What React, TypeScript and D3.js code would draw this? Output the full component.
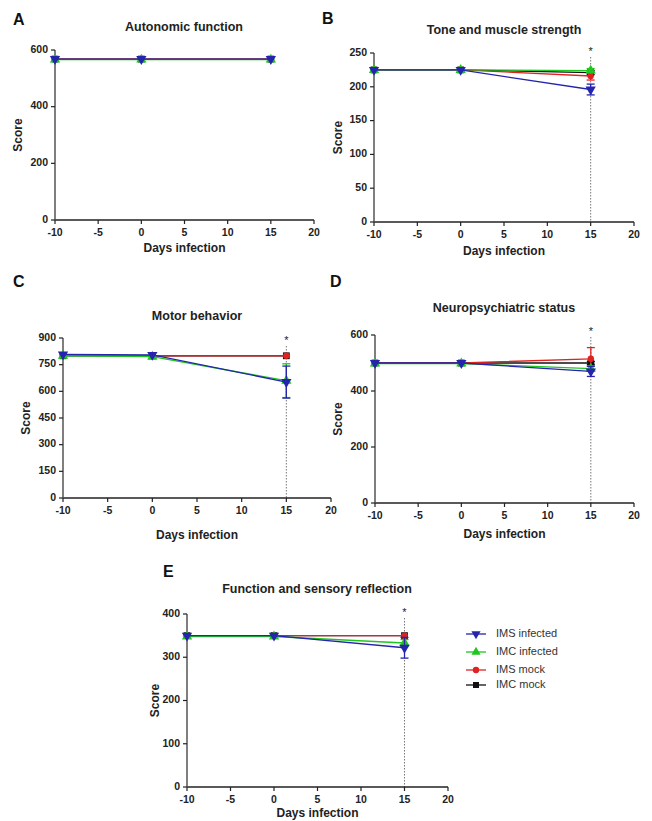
import React from 'react';
import * as d3 from 'd3';

const days = [-10, 0, 15];
const xTicks = [-10, -5, 0, 5, 10, 15, 20];

const seriesNames = ['IMS infected', 'IMC infected', 'IMS mock', 'IMC mock'];
const seriesColors = ['#2424ad', '#1fc61f', '#e02222', '#111111'];

// means per series (IMS infected, IMC infected, IMS mock, IMC mock)
const autonomicMean = [[568, 568, 568], [566, 566, 566], [568, 568, 568], [568, 568, 568]];
const autonomicErr = [[0, 0, 0], [0, 0, 0], [0, 0, 0], [0, 0, 0]];

const toneMean = [[225, 225, 196], [225, 225, 224], [225, 225, 216], [225, 225, 221]];
const toneErr = [[0, 0, 8], [0, 0, 3], [0, 0, 6], [0, 0, 3]];

const motorMean = [[808, 805, 652], [800, 795, 660], [805, 800, 800], [800, 800, 800]];
const motorErr = [[0, 0, 90], [0, 0, 95], [0, 0, 0], [0, 0, 0]];

const neuroMean = [[500, 500, 470], [498, 498, 480], [500, 500, 515], [500, 500, 500]];
const neuroErr = [[0, 0, 18], [0, 0, 10], [0, 0, 40], [0, 0, 5]];

const sensoryMean = [[350, 350, 322], [348, 348, 333], [350, 350, 350], [350, 350, 350]];
const sensoryErr = [[0, 0, 24], [0, 0, 8], [0, 0, 0], [0, 0, 0]];

const font = 'Arial, "Liberation Sans", sans-serif';

const symbolPath = (i: number, size = 46) => {
  const types = [d3.symbolTriangle, d3.symbolTriangle, d3.symbolCircle, d3.symbolSquare];
  return d3.symbol().type(types[i]).size(i === 2 ? 32 : size)() as string;
};
const symbolRot = (i: number) => (i === 0 ? 180 : 0);

type PanelProps = {
  letter: string; lx: number; ly: number;
  title: string; tx: number; ty: number;
  x0: number; x1: number; y0: number; y1: number;
  yMax: number; yStep: number;
  means: number[][]; errs: number[][];
  star: boolean; starY?: number;
  scoreX: number; xlabY: number;
};

const Panel = (p: PanelProps) => {
  const x = d3.scaleLinear().domain([-10, 20]).range([p.x0, p.x1]);
  const y = d3.scaleLinear().domain([0, p.yMax]).range([p.y0, p.y1]);
  const yTicks = d3.range(0, p.yMax + 1, p.yStep);
  const line = d3.line<number>().x((_, i) => x(days[i])).y(d => y(d));
  const order = [3, 2, 1, 0];
  return (
    <g>
      <text x={p.lx} y={p.ly} fontSize={16} fontWeight="bold" fill="#111" dominantBaseline="middle">{p.letter}</text>
      <text x={p.tx} y={p.ty} fontSize={12.5} fontWeight="bold" fill="#222" textAnchor="middle" dominantBaseline="middle">{p.title}</text>
      {p.star && (
        <g>
          <line x1={x(15)} x2={x(15)} y1={(p.starY as number) + 5} y2={p.y0} stroke="#777" strokeWidth={1} strokeDasharray="1.5,1.5" />
          <text x={x(15)} y={(p.starY as number) + 3} fontSize={11} fill="#222" textAnchor="middle">*</text>
        </g>
      )}
      {/* axes */}
      <line x1={p.x0} x2={p.x1} y1={p.y0} y2={p.y0} stroke="#222" strokeWidth={1.5} />
      <line x1={p.x0} x2={p.x0} y1={p.y0} y2={p.y1} stroke="#555" strokeWidth={1.5} />
      {xTicks.map(t => (
        <g key={'x' + t}>
          <line x1={x(t)} x2={x(t)} y1={p.y0} y2={p.y0 + 4} stroke="#222" strokeWidth={1.2} />
          <text x={x(t)} y={p.y0 + 13} fontSize={10.5} fontWeight="bold" fill="#222" textAnchor="middle" dominantBaseline="middle">{t}</text>
        </g>
      ))}
      {yTicks.map(t => (
        <g key={'y' + t}>
          <line x1={p.x0 - 4} x2={p.x0} y1={y(t)} y2={y(t)} stroke="#222" strokeWidth={1.2} />
          <text x={p.x0 - 7} y={y(t)} fontSize={10.5} fontWeight="bold" fill="#222" textAnchor="end" dominantBaseline="middle">{t}</text>
        </g>
      ))}
      <text x={(p.x0 + p.x1) / 2} y={p.xlabY} fontSize={12} fontWeight="bold" fill="#222" textAnchor="middle" dominantBaseline="middle">Days infection</text>
      <text transform={`translate(${p.scoreX},${(p.y0 + p.y1) / 2}) rotate(-90)`} fontSize={12} fontWeight="bold" fill="#222" textAnchor="middle" dominantBaseline="middle">Score</text>
      {/* series */}
      {order.map(si => (
        <g key={'s' + si}>
          <path d={line(p.means[si]) as string} fill="none" stroke={seriesColors[si]} strokeWidth={1.3} />
          {p.means[si].map((m, i) => p.errs[si][i] > 0 && (
            <g key={'e' + i} stroke={seriesColors[si]} strokeWidth={1.3}>
              <line x1={x(days[i])} x2={x(days[i])} y1={y(m - p.errs[si][i])} y2={y(m + p.errs[si][i])} />
              <line x1={x(days[i]) - 4} x2={x(days[i]) + 4} y1={y(m - p.errs[si][i])} y2={y(m - p.errs[si][i])} />
              <line x1={x(days[i]) - 4} x2={x(days[i]) + 4} y1={y(m + p.errs[si][i])} y2={y(m + p.errs[si][i])} />
            </g>
          ))}
          {p.means[si].map((m, i) => (
            <path key={'m' + i} d={symbolPath(si)} fill={seriesColors[si]}
              transform={`translate(${x(days[i])},${y(m)}) rotate(${symbolRot(si)})`} />
          ))}
        </g>
      ))}
    </g>
  );
};

const legendY = [634, 652, 670, 685];

export default function App() {
  return (
    <svg width={652} height={821} style={{ display: 'block', position: 'absolute', left: 0, top: 0, background: '#fff' }} fontFamily={font}>
      <rect width={652} height={821} fill="#fff" />
      <Panel letter="A" lx={13} ly={21} title="Autonomic function" tx={184} ty={28}
        x0={55} x1={314} y0={220} y1={50} yMax={600} yStep={200}
        means={autonomicMean} errs={autonomicErr} star={false} scoreX={19} xlabY={249} />
      <Panel letter="B" lx={322} ly={20} title="Tone and muscle strength" tx={504} ty={31}
        x0={374} x1={634} y0={222} y1={53} yMax={250} yStep={50}
        means={toneMean} errs={toneErr} star={true} starY={52} scoreX={339} xlabY={252} />
      <Panel letter="C" lx={13} ly={283} title="Motor behavior" tx={197} ty={317}
        x0={63} x1={331} y0={498} y1={338} yMax={900} yStep={150}
        means={motorMean} errs={motorErr} star={true} starY={341} scoreX={27} xlabY={536} />
      <Panel letter="D" lx={330} ly={283} title="Neuropsychiatric status" tx={504} ty={309}
        x0={375} x1={634} y0={503} y1={335} yMax={600} yStep={200}
        means={neuroMean} errs={neuroErr} star={true} starY={332} scoreX={339} xlabY={535} />
      <Panel letter="E" lx={163} ly={573} title="Function and sensory reflection" tx={317} ty={590}
        x0={187} x1={448} y0={787} y1={614} yMax={400} yStep={100}
        means={sensoryMean} errs={sensoryErr} star={true} starY={613} scoreX={156} xlabY={814} />
      {seriesNames.map((n, i) => (
        <g key={n}>
          <line x1={466} x2={486} y1={legendY[i]} y2={legendY[i]} stroke={seriesColors[i]} strokeWidth={1.3} />
          <path d={symbolPath(i, 36)} fill={seriesColors[i]} transform={`translate(476,${legendY[i]}) rotate(${symbolRot(i)})`} />
          <text x={496} y={legendY[i]} fontSize={11} fill="#333" dominantBaseline="middle">{n}</text>
        </g>
      ))}
    </svg>
  );
}
